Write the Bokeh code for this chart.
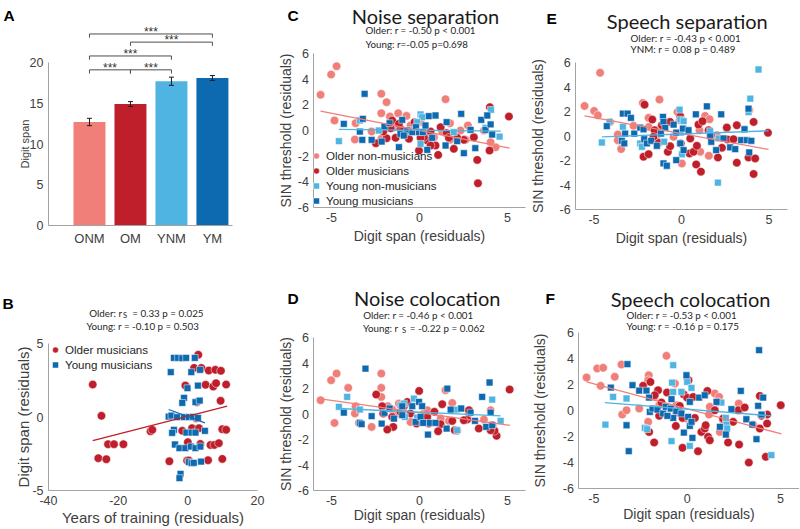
from bokeh.plotting import figure
from bokeh.models import (Range1d, FixedTicker, Label, Legend, LegendItem, Whisker,
                          ColumnDataSource, TeeHead, LinearAxis)
from bokeh.layouts import row, column
from bokeh.embed import file_html
from bokeh.resources import INLINE
from bokeh.core.properties import value

# ---------------- data ----------------
groups = ["ONM", "OM", "YNM", "YM"]
digit_span_mean = [12.7, 14.9, 17.7, 18.1]
digit_span_sem = [0.45, 0.3, 0.5, 0.3]
sig_pairs = [("ONM", "YM"), ("OM", "YM"), ("ONM", "YNM"), ("ONM", "OM"), ("OM", "YNM")]
sig_text = ["***", "***", "***", "***", "***"]

# B: years of training vs digit span
b_om_x = [-27.3, -24.8, -25.7, -23.4, -22.9, -21.2, -18.5, -10.7, -10.2, -5.3, -1.6, -0.7, 0.0, -0.2, 1.2, 3.2, 3.0, 1.8, 3.9, 6.0, 7.9, 9.5, 5.1, 7.3, 8.1, 11.0, 9.4, 9.9, 11.0, 6.5, 7.6, 8.9, 5.8, 9.9, 2.6, 2.4, 0.3, 3.6]
b_om_y = [2.21, 0.08, -2.80, -2.87, -1.85, -1.85, -1.85, -0.97, -0.87, -3.01, -0.94, 2.14, -1.71, -2.96, -0.76, -0.76, 4.23, 3.34, 3.34, 3.16, 3.21, 3.14, 2.19, 2.07, 2.30, 2.21, 1.10, -0.83, -0.87, -1.90, -1.90, -1.78, -2.94, -2.85, 1.01, -0.08, -2.96, -1.83]
b_ym_x = [-4.0, -2.8, -1.6, -0.5, 2.0, -4.9, 1.0, 3.5, -0.1, 2.9, -1.1, -1.6, 2.2, 3.4, -5.5, -4.7, -3.1, -1.1, 0.3, 1.5, 2.9, -4.0, -4.5, -0.4, 1.1, 2.2, 4.9, -3.7, -2.4, -0.7, 0.9, 2.2, 3.6, 0.3, 1.1, 1.7, 3.8, -2.1, -2.4]
b_ym_y = [4.02, 4.02, 4.00, 4.02, 4.02, 3.05, 3.05, 3.21, 1.96, 2.14, 1.30, 0.96, 1.01, 1.12, 0.03, 0.10, -0.01, -0.01, -0.01, 0.01, -0.06, -0.87, -1.08, -1.06, -1.06, -1.06, -0.94, -1.87, -2.12, -2.12, -2.01, -2.12, -2.01, -3.07, -3.14, -3.12, -3.03, -3.87, -4.16]
b_fit_om_x = [-27.3, 11.3]
b_fit_om_y = [-1.6, 0.74]
b_fit_ym_x = [-5.5, 4.9]
b_fit_ym_y = [0.51, -0.40]

# C: noise separation
c_onm_x = [-5.62, -5.02, -4.71, -4.83, -3.67, -3.63, -2.72, -2.17, -1.87, -2.17, -1.68, -1.21, -0.74, -2.17, -1.45, -0.51, 0.06, 1.48, 1.73, 1.29, 0.44, 2.75, 2.33, 3.66, 4.32, 4.04, 2.62, 0.82, -0.70, 1.73]
c_onm_y = [2.78, 4.36, 5.01, 0.78, -0.70, 0.57, -0.08, 2.86, 2.21, 1.35, 1.09, 1.35, 1.14, -0.65, 0.26, 0.39, 0.65, 2.44, 0.57, -0.08, -0.21, 0.39, 0.00, 0.00, -1.30, -0.91, -0.73, -0.52, -0.13, -0.73]
c_om_x = [5.08, 4.00, 3.28, 3.32, 3.98, 3.09, 2.52, 1.95, 1.06, 1.54, 0.91, 0.44, 0.25, -0.03, 0.06, -0.28, -0.60, -0.89, -1.08, -1.36, -1.64, -1.87, -2.06, -2.48, -1.55, 0.63, 1.20, 2.14, 1.67, 0.63, -1.17]
c_om_y = [1.09, 1.82, -2.29, -4.11, -1.56, -0.52, -0.73, -1.43, -1.90, -0.21, -1.17, -0.78, -0.52, -1.56, -0.57, 0.65, -0.65, -0.26, 0.13, -0.57, 0.18, -0.60, -0.08, -0.99, 0.78, -0.08, 0.26, -0.57, -0.57, -1.17, 0.52]
c_ynm_x = [-4.58, -3.39, -2.31, 0.06, 0.06, 0.15, -0.13, 4.06, 4.55, 3.75, 1.95, -0.51]
c_ynm_y = [-0.83, 0.78, 0.00, 1.25, -1.04, 1.04, 0.65, 1.61, -0.47, 0.21, -0.13, 0.00]
c_ym_x = [-3.12, -4.30, -3.22, -3.39, -3.25, -2.72, -2.15, -1.99, -1.70, -1.17, -0.98, -1.08, -0.70, -0.41, -0.20, -0.03, 0.19, 0.53, 0.91, 0.34, 0.44, 0.72, 1.54, 1.48, 2.14, 2.37, 2.52, 2.90, 3.17, 3.51, 3.75, 3.85, 4.04, 4.13, -0.89]
c_ym_y = [2.86, 0.52, 0.91, -0.08, -0.73, -0.73, -0.86, 0.31, 0.57, -1.30, 0.83, -0.26, 0.00, -0.13, 0.26, -0.13, -0.13, 1.12, 1.17, 0.39, -1.51, -0.57, 0.65, -1.17, -0.83, 1.30, -1.77, 0.05, -1.38, 0.83, 0.05, 1.17, 0.47, -0.31, -0.39]
c_fit_old_x = [-5.62, 5.12]
c_fit_old_y = [1.51, -1.38]
c_fit_young_x = [-4.58, 4.61]
c_fit_young_y = [0.08, -0.05]

# D: noise colocation
d_onm_x = [-5.62, -5.02, -4.71, -4.83, -4.05, -3.63, -3.67, -3.44, -2.72, -2.17, -2.17, -2.17, -1.80, -1.17, -0.70, -1.23, 0.25, 1.48, 1.86, 1.67, 2.14, 2.81, 4.04, 3.66, -0.51, 1.20, 0.44, -1.55]
d_onm_y = [1.08, 2.65, 3.17, -0.70, 2.05, 0.61, 0.04, -0.70, -1.01, 3.17, 2.05, 1.34, 0.61, 0.82, 0.87, 0.04, 0.04, 1.87, 0.87, -0.54, -1.32, 0.04, 0.30, -0.43, -0.62, -0.36, 0.30, 0.35]
d_om_x = [5.12, 4.38, 4.26, 4.13, 4.04, 3.37, 2.81, 2.71, 2.52, 2.00, 1.29, 1.20, 1.06, 0.85, 0.53, -0.02, -0.17, -0.51, -0.70, -0.89, -1.08, -1.49, -1.83, -1.55, -2.06, -2.12, -2.46, 0.44, 1.86]
d_om_y = [1.92, -1.71, -1.32, -0.88, -1.27, -1.14, 0.30, -0.43, -0.49, -1.27, 0.77, -0.80, -1.35, 0.17, -0.75, 1.81, -0.75, 0.04, 0.95, 0.61, 0.17, -1.01, -1.22, -0.23, 0.04, 0.61, 1.53, -0.23, -0.54]
d_ynm_x = [-4.58, -4.11, -3.39, -1.08, -0.32, -0.83, -0.13, 2.14, 2.11, 4.13, 4.61, -0.89]
d_ynm_y = [0.56, 1.34, 0.35, 0.69, 1.21, -0.23, -0.28, -1.27, 0.35, 1.13, -0.54, 0.82]
d_ym_x = [-3.07, -4.30, -3.39, -3.29, -2.72, -2.15, -1.99, -1.70, -1.45, -0.98, -0.98, -0.41, -0.03, 0.15, -0.22, 0.06, 0.21, 0.59, 0.91, 0.48, 1.58, 1.77, 1.54, 2.37, 2.90, 3.15, 3.56, 3.79, 3.98, 4.04, 4.13]
d_ym_y = [3.56, 0.11, -0.70, -0.80, -0.17, -0.75, 0.09, 0.43, -0.36, 0.61, -0.09, 0.61, 0.95, 0.61, -0.62, -0.23, -0.70, -0.70, -0.70, -1.61, 1.99, 0.35, -1.14, 0.43, 0.11, -0.54, 1.34, -1.01, 2.47, 0.11, -0.88]
d_fit_old_x = [-5.62, 5.14]
d_fit_old_y = [1.19, -0.90]
d_fit_young_x = [-4.58, 4.61]
d_fit_young_y = [0.43, -0.15]

# E: speech separation
e_onm_x = [-4.65, -5.54, -4.99, -4.78, -4.07, -3.64, -3.64, -3.45, -2.74, -2.21, -1.26, -1.88, -1.41, -1.88, -0.80, -0.23, -0.45, -0.11, 0.02, 1.03, 1.35, 1.60, 1.07, 1.56, 2.02, 2.59, 3.87, -1.41]
e_onm_y = [5.16, 2.45, 2.05, 1.69, 1.15, 0.12, -0.34, -1.07, 0.83, 2.70, 2.97, 1.48, 0.47, 0.74, 1.15, 1.96, -0.07, 1.29, -2.24, 0.47, 1.64, 1.37, -1.29, -1.61, 0.07, 0.61, 2.10, 0.07]
e_om_x = [-2.11, -1.67, -1.54, -1.12, -0.65, -0.07, -2.17, -1.88, -0.78, -0.65, -1.31, -1.60, -0.04, 0.46, 0.69, 0.88, 0.84, 1.11, 0.97, 1.20, 1.55, 1.68, 2.08, 2.31, 2.59, 2.63, 2.97, 3.16, 3.16, 3.83, 4.12, 4.21, 4.12, 4.94, 0.50]
e_om_y = [2.56, 1.34, 0.47, 0.88, 1.15, 1.61, -1.69, -1.48, -1.29, -0.83, -0.56, -0.07, -0.61, -1.42, -1.29, -0.80, -2.32, -2.91, 0.93, 1.21, 0.47, 0.07, -1.75, -0.96, 0.69, -0.29, -0.26, 0.88, -2.18, -1.75, 1.15, -1.83, -3.10, 0.26, -0.20]
e_ynm_x = [-4.55, -4.11, -3.35, -2.36, -2.26, -0.99, -0.11, -0.07, 0.12, 0.02, -0.04, 2.08, 2.12, 3.93, 3.83, 4.40, 1.64]
e_ynm_y = [-0.53, 1.15, 0.74, -0.61, -0.88, -0.47, 2.15, 1.34, 1.21, -1.50, 0.28, -3.81, -0.20, 3.05, 1.96, 5.43, 0.39]
e_ym_x = [-4.27, -3.35, -3.08, -2.89, -3.22, -3.41, -3.27, -2.70, -2.36, -2.17, -2.13, -1.98, -1.73, -1.41, -1.06, -1.03, -0.93, -1.18, -0.45, -0.30, 0.08, 0.40, -0.07, 0.12, -0.30, -1.03, -0.84, 0.82, 1.45, 1.64, 1.70, 1.98, 2.27, 2.40, 2.78, 3.07, 3.41, 3.74, 3.99, 3.60, 3.83, 3.87]
e_ym_y = [0.80, 1.83, 1.83, 1.48, 0.20, -0.39, -0.61, 0.20, 0.69, 0.55, -0.26, -0.61, -0.39, -0.80, 1.56, 1.15, 0.66, 0.20, 0.93, 0.28, 0.61, 0.47, -0.61, -1.15, -1.97, -2.24, -2.43, 1.77, 2.42, 0.00, -0.47, -1.15, 1.77, -0.20, -0.93, -1.07, -0.34, -0.34, -0.39, 0.55, 2.23, -1.34]
e_fit_old_x = [-5.54, 4.97]
e_fit_old_y = [1.64, -1.10]
e_fit_young_x = [-4.55, 4.97]
e_fit_young_y = [-0.07, 0.42]

# F: speech colocation
f_onm_x = [-5.39, -4.82, -4.50, -4.64, -3.88, -3.52, -3.48, -3.25, -2.57, -2.06, -2.09, -2.09, -1.77, -1.11, -1.50, -0.66, -0.58, 0.01, -0.40, -0.04, 1.21, 1.48, 1.71, 1.17, 1.75, 2.76, 2.82, 3.53, 1.92, 0.23]
f_onm_y = [2.53, 3.22, 3.27, 1.89, 2.58, 3.52, -0.31, 0.02, 0.15, 2.70, 2.32, -0.87, 1.04, 4.19, 0.41, 2.07, 0.41, 2.40, -0.23, -0.62, 0.28, 1.30, 1.04, -0.31, -1.64, 0.53, 0.02, -1.08, -0.74, -0.87]
f_om_x = [-2.36, -1.97, -1.56, -1.74, -1.08, -1.50, -1.38, -2.04, -1.77, -0.58, -0.61, -0.25, -0.25, -0.40, -0.18, 0.00, 0.07, 0.32, 0.41, 0.58, 0.76, 0.94, 1.12, 1.21, 0.99, 1.08, 1.66, 1.92, 2.19, 2.46, 2.73, 3.08, 2.78, 3.30, 3.89, 3.98, 3.89, 4.28, 4.28, 4.21, 5.01, 1.48]
f_om_y = [1.89, 2.19, 1.55, 1.17, 1.38, -0.41, 0.61, -1.64, -2.45, -0.11, -1.18, -2.86, -0.57, 0.35, 1.22, 0.97, 2.32, 1.04, -0.57, -3.12, -1.64, -1.38, -2.02, -2.28, -1.13, 1.50, 0.66, -0.62, -2.45, -0.87, 0.02, 0.23, -2.61, -3.99, 1.12, -0.41, -1.38, -0.31, -1.00, -3.55, 0.41, 0.02]
f_ynm_x = [-4.38, -3.97, -3.25, -2.27, -2.15, -0.84, -0.75, -0.81, -0.75, 0.00, 0.23, 0.14, 1.83, 2.10, 2.14, 2.07, 4.01, 4.51, -0.31]
f_ynm_y = [-1.08, 1.04, 0.92, -1.33, -1.43, -2.35, 3.47, 2.14, 1.43, 2.19, 1.73, -2.71, 0.61, -1.00, -1.38, -0.57, -0.31, -3.42, 1.43]
f_ym_x = [-3.20, -4.09, -3.25, -3.13, -2.93, -2.57, -2.18, -2.04, -2.00, -1.86, -1.59, -1.29, -1.15, -0.88, -0.84, -0.75, -1.06, -0.58, -0.31, -0.18, -0.04, 0.14, 0.05, 0.14, 0.28, 0.23, 0.64, 0.94, 1.57, 1.75, 2.07, 2.37, 2.87, 3.17, 3.49, 3.71, 3.85, 3.80, 4.07, 3.98]
f_ym_y = [3.55, 1.76, -1.13, -3.12, 1.94, 1.53, 1.53, 0.99, -0.11, 0.15, 0.07, -0.23, 0.28, 0.15, 0.87, -0.57, -0.41, -0.05, -0.23, -1.69, 2.70, 0.66, -0.49, -1.18, -2.10, -0.87, 0.99, 1.17, 0.66, -1.25, -1.84, 0.10, 1.50, -0.67, -1.08, -2.20, 4.62, 0.36, 0.99, -0.31]
f_fit_old_x = [-5.39, 5.05]
f_fit_old_y = [2.20, -1.80]
f_fit_young_x = [-4.41, 4.51]
f_fit_young_y = [0.61, -0.41]

legend_labels = ["Older non-musicians", "Older musicians", "Young non-musicians", "Young musicians"]
resid_ticks_x = [-5, 0, 5]
resid_ticks_y = [-6, -4, -2, 0, 2, 4, 6]

# ---------------- style ----------------
COL = {"ONM": "#F07F7A", "OM": "#BE1F2A", "YNM": "#4FB4E2", "YM": "#0D69B0"}
AX_COLOR = "#A3A3A3"
TXT = "#404040"
SANS = "Liberation Sans"
CAL = "Lato"
ANN_SIZE = "9.8px"


def make_fig(W, H, xv0, xv1, px0, px1, yv0, yv1, py0, py1):
    """Frame fills the figure; (xv0 at px0, xv1 at px1) from left, (yv0 at py0, yv1 at py1) from top."""
    kx = (xv1 - xv0) / (px1 - px0)
    ky = (yv1 - yv0) / (py0 - py1)
    xr = (xv0 - px0 * kx, xv0 + (W - px0) * kx)
    yr = (yv0 - (H - py0) * ky, yv0 + py0 * ky)
    p = figure(width=W, height=H, x_range=Range1d(*xr), y_range=Range1d(*yr),
               output_backend="svg", toolbar_location=None,
               x_axis_location=None, y_axis_location=None,
               min_border=0, min_border_left=0, min_border_right=0,
               min_border_top=0, min_border_bottom=0)
    p.outline_line_color = None
    for g in p.grid:
        g.visible = False
    return p


def add_axis(p, side, loc, bounds, ticks, label, label_size, standoff, overrides=None,
             tick_size="12.5px"):
    ax = LinearAxis(fixed_location=loc, bounds=bounds)
    ax.ticker = FixedTicker(ticks=ticks)
    ax.major_label_overrides = overrides if overrides else {t: str(t) for t in ticks}
    ax.axis_line_color = AX_COLOR
    ax.axis_line_width = 1
    ax.major_tick_in = 0
    ax.major_tick_out = 0
    ax.minor_tick_in = 0
    ax.minor_tick_out = 0
    ax.major_tick_line_color = None
    ax.minor_tick_line_color = None
    ax.major_label_standoff = 5
    ax.major_label_text_font = SANS
    ax.major_label_text_font_size = tick_size
    ax.major_label_text_color = TXT
    ax.axis_label = label
    ax.axis_label_text_font = SANS
    ax.axis_label_text_font_size = label_size
    ax.axis_label_text_font_style = "normal"
    ax.axis_label_text_color = TXT
    ax.axis_label_standoff = standoff
    p.add_layout(ax, side)
    return ax


def txt(p, x, y, text, font=CAL, size=ANN_SIZE, style="normal", align="left", color="#262626"):
    p.add_layout(Label(x=x, y=y, text=text, text_font=font, text_font_size=size,
                       text_font_style=style, text_align=align, text_baseline="alphabetic",
                       text_color=color))


def letter(p, x, y, t):
    txt(p, x, y, t, font=SANS, size="15.5px", style="bold", color="black")


def make_legend(items, loc):
    return Legend(items=items, location=loc, orientation="vertical",
                  background_fill_alpha=0, border_line_color=None, padding=0, margin=0,
                  spacing=0, glyph_height=15, glyph_width=18, label_height=15,
                  label_standoff=1, label_text_font=SANS, label_text_font_size="11.6px",
                  label_text_color="#262626")


# ---------------- Panel A ----------------
xpos = [i + 1 for i in range(len(groups))]
pA = make_fig(268, 268, 0, 4.49, 48, 232, 0, 20, 225, 62)
bar_src = ColumnDataSource(dict(x=xpos, top=digit_span_mean, color=[COL[g] for g in groups],
                                upper=[m + s for m, s in zip(digit_span_mean, digit_span_sem)],
                                lower=[m - s for m, s in zip(digit_span_mean, digit_span_sem)]))
pA.vbar(x="x", top="top", width=0.78, fill_color="color", line_color=None, source=bar_src)
wk = Whisker(source=bar_src, base="x", upper="upper", lower="lower", line_color="#1a1a1a",
             line_width=1, level="annotation",
             upper_head=TeeHead(size=5, line_color="#1a1a1a", line_width=1),
             lower_head=TeeHead(size=5, line_color="#1a1a1a", line_width=1))
pA.add_layout(wk)
sig_heights = [23.5, 22.5, 20.8, 19.1, 19.1]
tick_len = 0.45
br_xs, br_ys, st_x, st_y = [], [], [], []
for (g1, g2), h in zip(sig_pairs, sig_heights):
    x1, x2 = xpos[groups.index(g1)], xpos[groups.index(g2)]
    br_xs.append([x1, x1, x2, x2])
    br_ys.append([h - tick_len, h, h, h - tick_len])
    st_x.append((x1 + x2) / 2)
    st_y.append(h + 0.2)
pA.multi_line(xs=br_xs, ys=br_ys, line_color="#4d4d4d", line_width=1)
pA.text(x=st_x, y=st_y, text=sig_text, text_font=value(SANS), text_font_size="12px",
        text_align="center", text_baseline="alphabetic", text_color="#333333")
add_axis(pA, "below", 0, (0, 4.49), xpos, "", "12px", 0,
         overrides={x: g for x, g in zip(xpos, groups)}, tick_size="13px")
add_axis(pA, "left", 0, (0, 20), [0, 5, 10, 15, 20], "Digit span", "11px", -4)
letter(pA, -1.10, 25.8, "A")

# ---------------- Panel B ----------------
pB = make_fig(268, 260, -40, 20, 48, 257, -5, 5, 222, 75)
rb1 = pB.scatter(b_om_x, b_om_y, marker="circle", size=8.5, fill_color=COL["OM"],
                 line_color="white", line_width=0.5)
rb2 = pB.scatter(b_ym_x, b_ym_y, marker="square", size=6.8, fill_color=COL["YM"],
                 line_color="white", line_width=0.5)
pB.line(b_fit_om_x, b_fit_om_y, line_color=COL["OM"], line_width=1.3)
pB.line(b_fit_ym_x, b_fit_ym_y, line_color=COL["YM"], line_width=1.3)
add_axis(pB, "below", -5, (-40, 20), [-40, -20, 0, 20], "Years of training (residuals)", "15px", 1)
add_axis(pB, "left", -40, (-5, 5), [-5, 0, 5], "Digit span (residuals)", "15px", -3)
pB.add_layout(make_legend([LegendItem(label="Older musicians", renderers=[rb1]),
                           LegendItem(label="Young musicians", renderers=[rb2])], (46, 156.5)))
letter(pB, -53.2, 7.72, "B")
txt(pB, -18.18, 7.06, "Older:  r", align="right")
txt(pB, -18.6, 6.88, "S", size="7.5px")
txt(pB, -15.97, 7.06, "= 0.33 p = 0.025")
txt(pB, -29.1, 6.22, "Young:  r = -0.10 p = 0.503")


# ---------------- scatter panels ----------------
def scatter_panel(p, onm, om, ynm, ym, fit_old, fit_young):
    rs = []
    for (xs, ys), key in zip([onm, om, ynm, ym], ["ONM", "OM", "YNM", "YM"]):
        circ = key in ("ONM", "OM")
        rs.append(p.scatter(xs, ys, marker="circle" if circ else "square",
                            size=8.5 if circ else 6.8, fill_color=COL[key],
                            line_color="white", line_width=0.5))
    p.line(fit_old[0], fit_old[1], line_color=COL["ONM"], line_width=1.3)
    p.line(fit_young[0], fit_young[1], line_color=COL["YNM"], line_width=1.3)
    return rs


def resid_axes(p, xb, xs, ys):
    add_axis(p, "below", -6, xb, resid_ticks_x, "Digit span (residuals)", "14px", xs)
    add_axis(p, "left", xb[0], (-6, 6), resid_ticks_y, "SIN threshold (residuals)", "14px", ys)


pC = make_fig(262, 268, -6, 6, 45.4, 256.6, -6, 6, 207, 53)
rc = scatter_panel(pC, (c_onm_x, c_onm_y), (c_om_x, c_om_y), (c_ynm_x, c_ynm_y),
                   (c_ym_x, c_ym_y), (c_fit_old_x, c_fit_old_y), (c_fit_young_x, c_fit_young_y))
resid_axes(pC, (-6, 6), 3, 0)
pC.add_layout(make_legend([LegendItem(label=l, renderers=[r]) for l, r in zip(legend_labels, rc)],
                          (39, 60.5)))
letter(pC, -7.5, 8.96, "C")
txt(pC, 0.34, 8.91, "Noise separation", size="20px", align="center", color="#1a1a1a")
txt(pC, -3.07, 7.85, "Older: r = -0.50 p < 0.001")
txt(pC, -3.07, 6.76, "Young:  r=-0.05  p=0.698")

pD = make_fig(262, 260, -6, 6, 45.4, 256.6, -6, 6, 222, 69)
scatter_panel(pD, (d_onm_x, d_onm_y), (d_om_x, d_om_y), (d_ynm_x, d_ynm_y),
              (d_ym_x, d_ym_y), (d_fit_old_x, d_fit_old_y), (d_fit_young_x, d_fit_young_y))
resid_axes(pD, (-6, 6), -1, 0)
letter(pD, -7.5, 9.08, "D")
txt(pD, 0.44, 9.08, "Noise colocation", size="20px", align="center", color="#1a1a1a")
txt(pD, -3.2, 7.73, "Older: r = -0.46 p < 0.001")
txt(pD, -0.93, 6.76, "Young:   r", align="right")
txt(pD, -1.0, 6.56, "S", size="7.5px")
txt(pD, -0.55, 6.76, "= -0.22 p = 0.062")

pE = make_fig(269, 268, -6, 6, 46, 256, -6, 6, 209, 62)
scatter_panel(pE, (e_onm_x, e_onm_y), (e_om_x, e_om_y), (e_ynm_x, e_ynm_y),
              (e_ym_x, e_ym_y), (e_fit_old_x, e_fit_old_y), (e_fit_young_x, e_fit_young_y))
resid_axes(pE, (-6.05, 6.05), 3, 10)
letter(pE, -7.71, 9.6, "E")
txt(pE, 0.33, 9.4, "Speech separation", size="20px", align="center", color="#1a1a1a")
txt(pE, -2.91, 8.03, "Older: r = -0.43 p < 0.001")
txt(pE, -2.91, 7.09, "YNM:  r = 0.08 p = 0.489")

pF = make_fig(269, 260, -5, 5, 63.35, 250.05, -6, 6, 220.3, 63.7)
scatter_panel(pF, (f_onm_x, f_onm_y), (f_om_x, f_om_y), (f_ynm_x, f_ynm_y),
              (f_ym_x, f_ym_y), (f_fit_old_x, f_fit_old_y), (f_fit_young_x, f_fit_young_y))
resid_axes(pF, (-5.8, 6.0), 0, 11)
letter(pF, -7.59, 8.56, "F")
txt(pF, 0.18, 8.56, "Speech colocation", size="20px", align="center", color="#1a1a1a")
txt(pF, -3.25, 7.33, "Older: r = -0.53 p < 0.001")
txt(pF, -3.25, 6.44, "Young:  r = -0.16 p = 0.175")

layout = row(column(pA, pB), column(pC, pD), column(pE, pF))
open("out.html", "w").write(file_html(layout, INLINE, title="Digit span and SIN"))
